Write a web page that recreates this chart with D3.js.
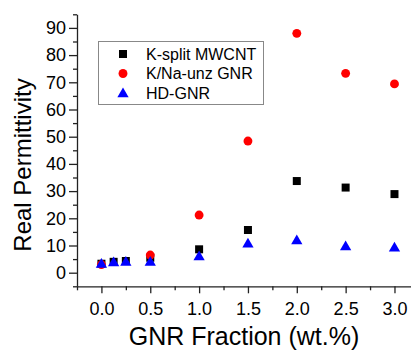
<!DOCTYPE html>
<html><head><meta charset="utf-8">
<script src="https://cdn.jsdelivr.net/npm/d3@7"></script>
<style>body{margin:0;background:#fff}svg{display:block}text{font-family:Arial,"Liberation Sans",sans-serif}</style>
</head><body>
<script>
const xK = [0, 0.125, 0.25, 0.5, 1.0, 1.5, 2.0, 2.5, 3.0];
const yK = [3.3, 4.0, 4.3, 5.5, 8.6, 15.7, 33.7, 31.3, 28.9];
const xR = [0, 0.5, 1.0, 1.5, 2.0, 2.5, 3.0];
const yR = [3.0, 6.5, 21.2, 48.4, 88.0, 73.3, 69.4];
const xB = [0, 0.125, 0.25, 0.5, 1.0, 1.5, 2.0, 2.5, 3.0];
const yB = [3.4, 3.9, 4.1, 4.1, 6.1, 10.8, 12.0, 9.8, 9.4];
const seriesNames = ["K-split MWCNT", "K/Na-unz GNR", "HD-GNR"];
const xTicks = [0, 0.5, 1.0, 1.5, 2.0, 2.5, 3.0];
const yTicks = [0, 10, 20, 30, 40, 50, 60, 70, 80, 90];

const W = 411, H = 351;
const svg = d3.select("body").append("svg").attr("width", W).attr("height", H);
const x = d3.scaleLinear().domain([-0.25, 3.25]).range([77, 418.9]);
const y = d3.scaleLinear().domain([-5, 95]).range([286.3, 14.3]);

const xMinor = d3.range(-0.25, 3.26, 0.25).filter(v => Math.abs(v*2 - Math.round(v*2)) > 1e-6);
const yMinor = d3.range(-5, 95.1, 10);
const gx = svg.append("g").attr("transform", `translate(0,${y.range()[0]})`);
gx.call(d3.axisBottom(x).tickValues(xTicks).tickFormat(d3.format(".1f")).tickSize(7).tickPadding(9).tickSizeOuter(0));
gx.append("g").call(d3.axisBottom(x).tickValues(xMinor).tickFormat("").tickSize(4).tickSizeOuter(0)).select(".domain").remove();
const gy = svg.append("g").attr("transform", `translate(${x.range()[0]},0)`);
gy.call(d3.axisLeft(y).tickValues(yTicks).tickFormat(d3.format("d")).tickSize(8).tickPadding(3).tickSizeOuter(0));
gy.append("g").call(d3.axisLeft(y).tickValues(yMinor).tickFormat("").tickSize(4).tickSizeOuter(0)).select(".domain").remove();
svg.selectAll(".domain, .tick line").attr("stroke", "#222").attr("stroke-width", 1.3);
gx.selectAll("text").attr("font-size", 18).attr("fill", "#000").attr("font-family", "Arial");
gy.selectAll("text").attr("font-size", 18).attr("fill", "#000").attr("font-family", "Arial");

svg.append("text").attr("x", 244).attr("y", 345).attr("text-anchor", "middle").attr("font-size", 25).text("GNR Fraction (wt.%)");
svg.append("text").attr("transform", "translate(31,165) rotate(-90)").attr("text-anchor", "middle").attr("font-size", 24).text("Real Permittivity");

const sq = d3.symbol().type(d3.symbolSquare).size(64);
const ci = d3.symbol().type(d3.symbolCircle).size(62);
const tr = d3.symbol().type(d3.symbolTriangle).size(55);

svg.append("g").selectAll("path").data(xK.map((v,i)=>[v,yK[i]])).join("path")
  .attr("d", sq).attr("transform", d=>`translate(${x(d[0])},${y(d[1])})`).attr("fill", "#000");
svg.append("g").selectAll("path").data(xR.map((v,i)=>[v,yR[i]])).join("path")
  .attr("d", ci).attr("transform", d=>`translate(${x(d[0])},${y(d[1])})`).attr("fill", "#ff0000");
svg.append("g").selectAll("path").data(xB.map((v,i)=>[v,yB[i]])).join("path")
  .attr("d", tr).attr("transform", d=>`translate(${x(d[0])},${y(d[1])+1})`).attr("fill", "#0000ff");

const lg = svg.append("g");
lg.append("rect").attr("x", 98.5).attr("y", 41.5).attr("width", 165).attr("height", 63).attr("fill", "#fff").attr("stroke", "#888").attr("stroke-width", 1);
const syms = [[sq, "#000"], [ci, "#ff0000"], [tr, "#0000ff"]];
seriesNames.forEach((n, i) => {
  const cy = 54 + i * 19.5;
  lg.append("path").attr("d", syms[i][0]).attr("transform", `translate(123,${cy + (i===2?1:0)})`).attr("fill", syms[i][1]);
  lg.append("text").attr("x", 146).attr("y", cy + 5.5).attr("font-size", 16).text(n);
});
</script>
</body></html>
